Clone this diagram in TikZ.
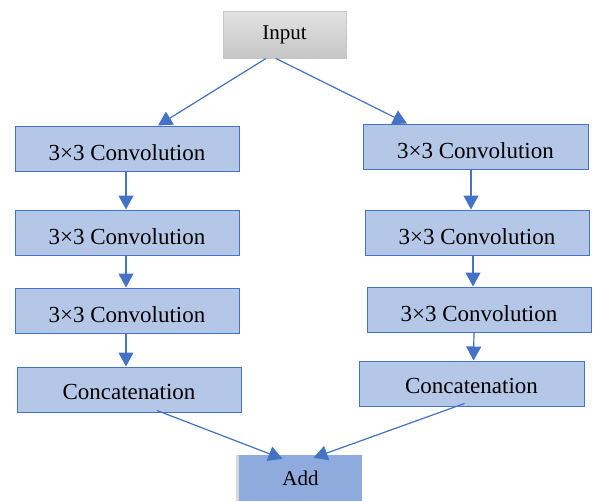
\documentclass[tikz,border=0pt]{standalone}
\usepackage{fontspec}
\setmainfont{Liberation Serif}
\usetikzlibrary{arrows.meta,shadows}
\definecolor{boxfill}{HTML}{B4C7E7}
\definecolor{boxline}{HTML}{4472C4}
\definecolor{addfill}{HTML}{8FAADC}
\begin{document}
\begin{tikzpicture}[x=1pt,y=-1pt,
  stage/.style={draw=boxline,fill=boxfill,line width=1pt,minimum width=224pt,minimum height=45pt,inner sep=0pt,text height=23pt,text depth=0pt,font=\fontsize{23}{26}\selectfont},
  catbox/.style={stage,text height=19pt},
  inbox/.style={draw=gray!45,top color=gray!22,bottom color=gray!45,line width=1pt,minimum width=123pt,minimum height=47pt,inner sep=0pt,font=\fontsize{21}{24}\selectfont},
  addbox/.style={fill=addfill,minimum width=123pt,minimum height=46pt,inner sep=0pt,font=\fontsize{21}{24}\selectfont,
    drop shadow={shadow xshift=-3pt,shadow yshift=0pt,fill=gray!60,opacity=0.5}},
  arr/.style={draw=boxline,line width=1.2pt,-{Triangle[length=14pt,width=15pt]},fill=boxline}]
\useasboundingbox (0,0) rectangle (593,501);
\node[inbox] (in) at (284.5,34.5) {Input};
\node[stage] (l1) at (127,148.5) {3×3 Convolution};
\node[stage] (l2) at (127,232.5) {3×3 Convolution};
\node[stage] (l3) at (127,310.5) {3×3 Convolution};
\node[catbox] (l4) at (129,389.5) {Concatenation};
\node[stage,minimum width=225pt] (r1) at (475.5,146.5) {3×3 Convolution};
\node[stage] (r2) at (477,232.5) {3×3 Convolution};
\node[stage] (r3) at (479,309.5) {3×3 Convolution};
\node[catbox,minimum width=225pt] (r4) at (471.5,383.5) {Concatenation};
\node[addbox] (add) at (300.5,478) {Add};
\draw[arr] ([xshift=-18.5pt]in.south) -- ([xshift=31pt]l1.north);
\draw[arr] ([xshift=-8.5pt]in.south) -- ([xshift=-68.5pt]r1.north);
\draw[arr] ([xshift=-1pt]l1.south) -- ([xshift=-1pt]l2.north);
\draw[arr] ([xshift=-1pt]l2.south) -- ([xshift=-1pt]l3.north);
\draw[arr] ([xshift=-1pt]l3.south) -- ([xshift=-3pt]l4.north);
\draw[arr] ([xshift=-4.5pt]r1.south) -- ([xshift=-6pt]r2.north);
\draw[arr] ([xshift=-4pt]r2.south) -- ([xshift=-6pt]r3.north);
\draw[arr] ([xshift=-5pt]r3.south) -- ([xshift=2pt]r4.north);
\draw[arr] ([xshift=28pt,yshift=2pt]l4.south) -- ([xshift=-18pt,yshift=-4pt]add.north);
\draw[arr] ([xshift=-7pt,yshift=3pt]r4.south) -- ([xshift=13pt,yshift=-3pt]add.north);
\end{tikzpicture}
\end{document}
